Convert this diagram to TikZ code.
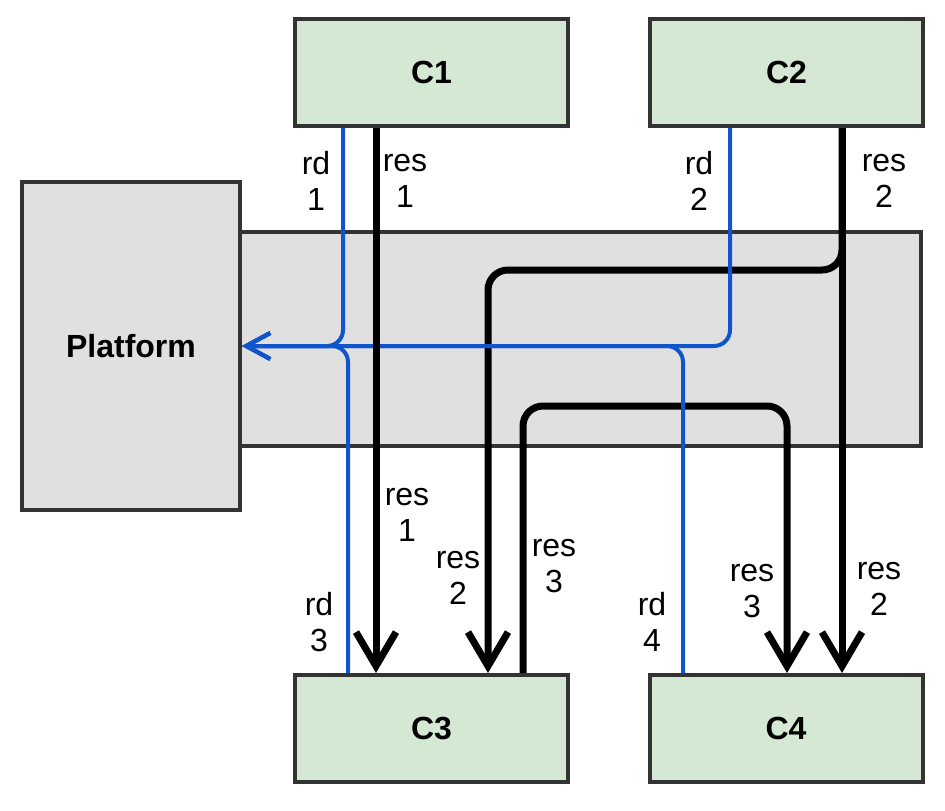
\documentclass[tikz,border=0pt]{standalone}
\usepackage{fontspec}
\setmainfont{Liberation Sans}
\usepackage{tikz}
\usetikzlibrary{arrows.meta,positioning}
\definecolor{cgreen}{HTML}{D5E8D4}
\definecolor{cgrey}{HTML}{E0E0E0}
\definecolor{cborder}{HTML}{333333}
\definecolor{rdblue}{HTML}{1155CC}
\tikzstyle{block} = [rectangle,draw=cborder,line width=4pt,fill=cgreen,minimum height=107pt,minimum width=273pt,font=\fontsize{32}{36}\selectfont\bfseries]
\tikzstyle{lbl} = [align=center,inner sep=0pt,font=\fontsize{32}{36}\selectfont]
\tikzstyle{rd} = [draw=rdblue,line width=4pt,rounded corners=16pt,-{Straight Barb[length=24pt,width=26pt]}]
\tikzstyle{res} = [draw=black,line width=7pt,rounded corners=20pt,-{Straight Barb[length=34pt,width=40pt]}]

\begin{document}
\begin{tikzpicture}[x=1pt,y=-1pt]
    \useasboundingbox (0,0) rectangle (945,811);
    % We start by placing the blocks
    \node [block, fill=cgrey, minimum width=689pt, minimum height=214pt] (bus) at (576.5,339) {};
    \node [block, fill=cgrey, minimum width=218pt, minimum height=328pt] (platform) at (131,346) {Platform};
    \node [block] (c1) at (431.5,72.5) {C1};
    \node [block] (c2) at (786.5,72.5) {C2};
    \node [block] (c3) at (431.5,728.5) {C3};
    \node [block] (c4) at (786,728.5) {C4};

    % labels beside the lines
    \node [lbl] (rdone) at (316,181) {rd\\1};
    \node [lbl] (resone) at (405,181) {res\\1};
    \node [lbl] (rdtwo) at (699,181) {rd\\2};
    \node [lbl] (restwo) at (884,181) {res\\2};
    \node [lbl] (resonelow) at (407,515) {res\\1};
    \node [lbl] (restwolow) at (458,578) {res\\2};
    \node [lbl] (resthreeup) at (554,566) {res\\3};
    \node [lbl] (rdthree) at (319,622) {rd\\3};
    \node [lbl] (rdfour) at (652,622) {rd\\4};
    \node [lbl] (resthree) at (752,591) {res\\3};
    \node [lbl] (restwor) at (879,589) {res\\2};

    % Once the nodes are placed, connecting them is easy.
    \draw [res] ([xshift=55.5pt]c2.south) -- ([xshift=56pt]c4.north);
    \draw [res] ([xshift=55.5pt]c2.south) -- ++(0,142) -| ([xshift=56.5pt]c3.north);
    \draw [res] ([xshift=91.5pt]c3.north) -- ++(0,-267) -| ([xshift=1pt]c4.north);
    \draw [rd] ([xshift=-88.5pt]c1.south) |- (platform.east);
    \draw [rd] ([xshift=-56.5pt]c2.south) |- (platform.east);
    \draw [rd] ([xshift=-83.5pt]c3.north) |- (platform.east);
    \draw [rd] ([xshift=-103pt]c4.north) |- (platform.east);
    \draw [res] ([xshift=-55.5pt]c1.south) -- ([xshift=-55.5pt]c3.north);
\end{tikzpicture}
\end{document}
